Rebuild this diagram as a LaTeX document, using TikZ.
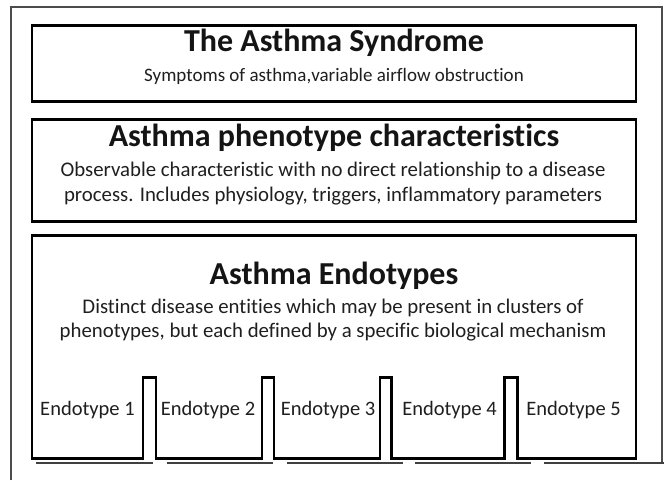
\documentclass[tikz,border=0pt]{standalone}
\usepackage{fontspec}
\setmainfont[Ligatures=NoCommon]{Carlito}
\begin{document}
\begin{tikzpicture}[x=1pt,y=-1pt,
  boxline/.style={line width=2.6pt, draw=black, line join=miter},
  frameline/.style={line width=1.1pt, draw=black!70},
  shadowline/.style={line width=1.7pt, draw=black!75},
  titletext/.style={font=\fontsize{32}{38}\selectfont\bfseries, text=black!92, anchor=base, inner sep=0pt},
  subtext/.style={font=\fontsize{19}{23}\selectfont, text=black!88, anchor=base, inner sep=0pt},
  bodytext/.style={font=\fontsize{20.8}{25}\selectfont, text=black!88, anchor=base, inner sep=0pt},
  endotext/.style={font=\fontsize{20.5}{25}\selectfont, text=black!88, anchor=base, inner sep=0pt}]
\useasboundingbox[fill=white] (0,0) rectangle (664,480);
% outer frame
\coordinate (fA) at (11,480);
\coordinate (fB) at (11,7);
\coordinate (fC) at (662,7);
\coordinate (fD) at (662,463);
\draw[frameline] (fA) -- (fB) -- (fC) -- (fD);
% box 1
\node[boxline, draw, minimum width=604pt, minimum height=76pt, inner sep=0pt] (box1) at (334,63.5) {};
\node[titletext] (t1) at (334,51.5) {The Asthma Syndrome};
\node[subtext] (s1) at (334,81.5) {Symptoms of asthma,variable airflow obstruction};
% box 2
\node[boxline, draw, minimum width=604pt, minimum height=102pt, inner sep=0pt] (box2) at (334,170.5) {};
\node[titletext] (t2) at (334,146.7) {Asthma phenotype characteristics};
\node[bodytext] (s2a) at (333,176.7) {Observable characteristic with no direct relationship to a disease};
\node[bodytext] (s2b) at (333,201.7) {process. Includes physiology, triggers, inflammatory parameters};
% box 3
\draw[boxline] (32,235.5) -- (32,458.5)
  -- (142.8,458.5) -- (142.8,377.2) -- (155.8,377.2) -- (155.8,458.5)
  -- (262,458.5) -- (262,377.2) -- (274,377.2) -- (274,458.5)
  -- (380,458.5) -- (380,377.2) -- (391.5,377.2) -- (391.5,458.5)
  -- (504.7,458.5) -- (504.7,377.2) -- (517.5,377.2) -- (517.5,458.5)
  -- (636,458.5) -- (636,235.5) -- cycle;
\node[titletext] (t3) at (334,284.3) {Asthma Endotypes};
\node[bodytext] (s3a) at (333,313.3) {Distinct disease entities which may be present in clusters of};
\node[bodytext] (s3b) at (333,337.5) {phenotypes, but each defined by a specific biological mechanism};
\node[endotext] (e1) at (87.5,415) {Endotype 1};
\node[endotext] (e2) at (208,415) {Endotype 2};
\node[endotext] (e3) at (328,415) {Endotype 3};
\node[endotext] (e4) at (449.5,415) {Endotype 4};
\node[endotext] (e5) at (573.5,415) {Endotype 5};
% shadow segments
\coordinate (g1a) at (36,463);  \coordinate (g1b) at (152.5,463);
\coordinate (g2a) at (166.5,463); \coordinate (g2b) at (273,463);
\coordinate (g3a) at (287,463); \coordinate (g3b) at (403,463);
\coordinate (g4a) at (415,463); \coordinate (g4b) at (531,463);
\coordinate (g5a) at (544,463); \coordinate (g5b) at (664,463);
\draw[shadowline] (g1a) -- (g1b);
\draw[shadowline] (g2a) -- (g2b);
\draw[shadowline] (g3a) -- (g3b);
\draw[shadowline] (g4a) -- (g4b);
\draw[shadowline] (g5a) -- (g5b);
\end{tikzpicture}
\end{document}
